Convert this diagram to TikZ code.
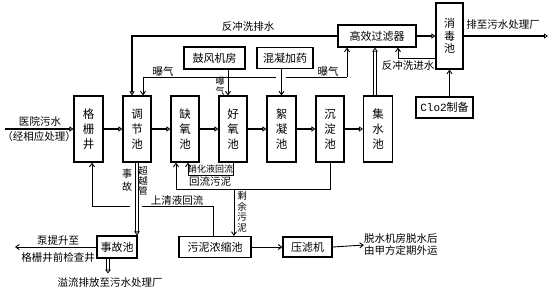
\documentclass[tikz,border=0pt]{standalone}
\usepackage{fontspec}
\setmainfont{Noto Sans CJK SC}
\newfontfamily\monofnt{Liberation Mono}
\usetikzlibrary{arrows.meta}
\begin{document}
\begin{tikzpicture}[x=1pt,y=-1pt,
  box/.style={draw, line width=1.1pt, inner sep=0pt, align=center, font=\fontsize{11.5}{15}\selectfont},
  vbox/.style={box, minimum width=28pt, minimum height=66pt},
  hbox/.style={box, minimum height=21pt, font=\fontsize{11}{13}\selectfont},
  main/.style={line width=2.4pt, -{Triangle[open,length=4pt,width=5pt,line width=0.8pt]}},
  wash/.style={line width=1.8pt, -{Triangle[open,length=4pt,width=5pt,line width=0.8pt]}},
  plain/.style={line width=0.9pt},
  conn/.style={line width=0.9pt, -{Straight Barb[length=3.5pt,width=5pt]}},
  dbl/.style={double=white, double distance=1.2pt, line width=1.1pt, -{Triangle[open,length=4pt,width=5.5pt,line width=0.8pt]}},
  lbl/.style={inner sep=0pt, font=\fontsize{10.5}{12}\selectfont, align=center},
  vlbl/.style={inner sep=0pt, font=\fontsize{10}{11}\selectfont, align=center},
]
\useasboundingbox (0,0) rectangle (554,293);

% main row
\node[vbox, minimum width=29pt] (gsj) at (88.5,129) {格\\栅\\井};
\node[vbox] (tjc) at (137,129) {调\\节\\池};
\node[vbox] (qyc) at (185,129) {缺\\氧\\池};
\node[vbox] (hyc) at (233,129) {好\\氧\\池};
\node[vbox, minimum width=29pt] (xnc) at (281.5,129) {絮\\凝\\池};
\node[vbox] (cdc) at (330,129) {沉\\淀\\池};
\node[vbox, minimum width=29pt] (jsc) at (378,129) {集\\水\\池};

% upper row
\node[hbox, minimum width=78pt, minimum height=22pt] (gxglq) at (377,36) {高效过滤器};
\node[box, minimum width=27pt, minimum height=66pt, font=\fontsize{11}{12.5}\selectfont] (xdc) at (449.5,36) {消\\毒\\池};
\node[hbox, minimum width=57pt] (clo) at (444.5,107.5) {{\monofnt Clo2}制备};
\node[hbox, minimum width=61pt, minimum height=22pt] (gfjf) at (214.5,58) {鼓风机房};
\node[hbox, minimum width=56pt] (hnjy) at (285,58) {混凝加药};

% lower row
\node[hbox, minimum width=40pt, minimum height=22pt] (sgc) at (117,247) {事故池};
\node[hbox, minimum width=72pt] (wnnsc) at (215,247) {污泥浓缩池};
\node[hbox, minimum width=49pt, minimum height=20pt] (ylj) at (307.5,247) {压滤机};
\node[lbl, anchor=west, align=left, font=\fontsize{10.5}{12}\selectfont] (txt) at (364,245) {脱水机房脱水后\\由甲方定期外运};

% coordinates
\coordinate (inL) at (5,129);
\coordinate (outR) at (548,36);
\coordinate (airL) at (143,77);
\coordinate (airR) at (347,77);
\coordinate (gapL) at (276,77);
\coordinate (gapR) at (286,77);
\coordinate (rs) at (234,189);
\coordinate (sqR) at (142,206);
\coordinate (sqL) at (130,206);
\coordinate (pumpL) at (15,247);

% main flow
\draw[main] (inL) -- (gsj.west);
\draw[main] (gsj.east) -- (tjc.west);
\draw[main] (tjc.east) -- (qyc.west);
\draw[main] (qyc.east) -- (hyc.west);
\draw[main] (hyc.east) -- (xnc.west);
\draw[main] (xnc.east) -- (cdc.west);
\draw[main] (cdc.east) -- (jsc.west);
\draw[dbl] ([xshift=-3pt]jsc.north) -- ([xshift=-3pt]jsc.north |- gxglq.south);
\draw[main] (gxglq.east) -- (xdc.west);
\draw[main] (xdc.east) -- (outR);

% backwash
\draw[wash] (gxglq.west) -| ([xshift=-5pt]tjc.north);
\draw[conn] ([yshift=-22.5pt]xdc.west) -| ([xshift=21pt]gxglq.south);
\draw[conn] (clo.north -| xdc.south) -- (xdc.south);

% aeration
\draw[plain] (airL) -- (gapL);
\draw[plain] (gapR) -- (airR);
\draw[conn] (airL) -- (airL |- tjc.north);
\draw[conn] (airR) -- (airR |- gxglq.south);
\draw[conn] ([xshift=13.5pt]gfjf.south) -- ([xshift=-5pt]hyc.north);
\draw[conn] (hnjy.south -| xnc.north) -- (xnc.north);

% returns
\draw[conn] (hyc.south) -- ++(0,13) -| ([xshift=3pt]qyc.south);
\draw[conn] (cdc.south) -- ++(0,27) -| ([xshift=-9pt]qyc.south);
\draw[conn] (rs) -- (rs |- wnnsc.north);
\draw[plain] ([xshift=-2pt]wnnsc.north) |- (sqR);
\draw[conn] (sqL) -| ([xshift=3.5pt]gsj.south);
\draw[dbl] (tjc.south) -- (tjc.south |- sgc.north);
\draw[conn] (sgc.west) -- (pumpL);
\draw[dbl] ([xshift=-9pt]sgc.south) -- ++(0,15);
\draw[conn] (wnnsc.east) -- (ylj.west);
\draw[conn] (ylj.east) -- (txt.west);

% labels
\node[lbl] (l1) at (40,121) {医院污水};
\node[lbl] (l2) at (39,137) {（经相应处理）};
\node[lbl] (l3) at (248,27) {反冲洗排水};
\node[lbl] (l4) at (503,25) {排至污水处理厂};
\node[lbl] (l5) at (163,71) {曝气};
\node[vlbl, font=\fontsize{9}{10}\selectfont] (l6) at (220,86) {曝\\气};
\node[lbl] (l7) at (328,71) {曝气};
\node[lbl] (l8) at (408,66) {反冲洗进水};
\node[lbl, font=\fontsize{9}{11}\selectfont] (l9) at (210.5,169) {硝化液回流};
\node[lbl] (l10) at (210,182) {回流污泥};
\node[lbl] (l11) at (177,200) {上清液回流};
\node[vlbl, font=\fontsize{10}{13}\selectfont] (l12) at (127,180) {事\\故};
\node[vlbl, font=\fontsize{9.5}{10}\selectfont] (l13) at (143,181) {超\\越\\管};
\node[vlbl, font=\fontsize{9.5}{10.5}\selectfont] (l14) at (242,212) {剩\\余\\污\\泥};
\node[lbl] (l15) at (58,241) {泵提升至};
\node[lbl] (l16) at (58,258) {格栅井前检查井};
\node[lbl] (l17) at (110,283) {溢流排放至污水处理厂};
\end{tikzpicture}
\end{document}
